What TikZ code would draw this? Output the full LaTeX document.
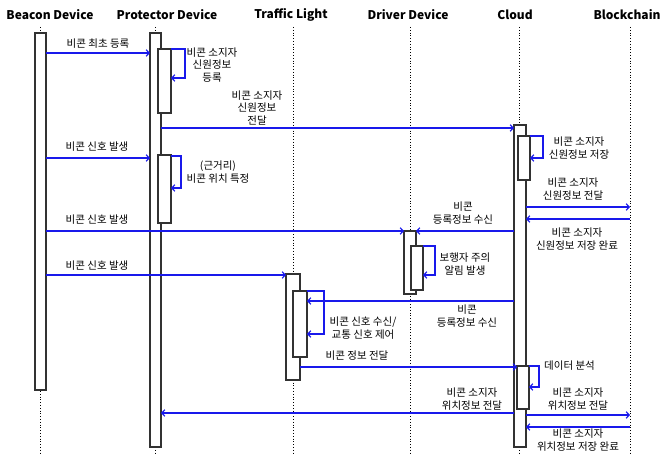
\documentclass[tikz,border=0pt]{standalone}
\usepackage{fontspec}
\setmainfont{Noto Sans CJK KR}
\usetikzlibrary{arrows.meta}
\definecolor{msgblue}{RGB}{25,25,235}
\definecolor{boxgray}{RGB}{50,50,50}
\begin{document}
\begin{tikzpicture}[x=1pt,y=-1pt,
  hdr/.style={font=\bfseries\fontsize{12}{14}\selectfont, inner sep=0},
  lbl/.style={font=\fontsize{10.5}{12.5}\selectfont, align=center, inner sep=0},
  life/.style={dotted, line width=0.8pt},
  act/.style={draw=boxgray, fill=white, line width=1.2pt, anchor=north west, inner sep=0, outer sep=0},
  msg/.style={draw=msgblue, line width=1.2pt, -{Straight Barb[length=3pt,width=6.5pt]}}]
\useasboundingbox (0,0) rectangle (662,454);
% headers
\node[hdr] (hA) at (50,15) {Beacon Device};
\node[hdr] (hP) at (167,15) {Protector Device};
\node[hdr] (hT) at (291,15) {Traffic Light};
\node[hdr] (hD) at (408,15) {Driver Device};
\node[hdr] (hC) at (515,15) {Cloud};
\node[hdr] (hB) at (627,15) {Blockchain};
% lifelines
\coordinate (lA1) at (40.5,27); \coordinate (lA2) at (40.5,454);
\coordinate (lP1) at (155.5,27); \coordinate (lP2) at (155.5,454);
\coordinate (lT1) at (293,27); \coordinate (lT2) at (293,454);
\coordinate (lD1) at (410,27); \coordinate (lD2) at (410,454);
\coordinate (lC1) at (519,27); \coordinate (lC2) at (519,454);
\coordinate (lB1) at (630,27); \coordinate (lB2) at (630,454);
\draw[life] (lA1) -- (lA2);
\draw[life] (lP1) -- (lP2);
\draw[life] (lT1) -- (lT2);
\draw[life] (lD1) -- (lD2);
\draw[life] (lC1) -- (lC2);
\draw[life] (lB1) -- (lB2);
% activation boxes
\node[act, minimum width=11pt, minimum height=357pt] (aA) at (35,33) {};
\node[act, minimum width=11pt, minimum height=414pt] (aP) at (150,33) {};
\node[act, minimum width=13pt, minimum height=64pt] (aP1) at (158,49) {};
\node[act, minimum width=13pt, minimum height=68pt] (aP2) at (158,155) {};
\node[act, minimum width=14pt, minimum height=106pt] (aT) at (286,274) {};
\node[act, minimum width=14pt, minimum height=66pt] (aT1) at (293,291) {};
\node[act, minimum width=12pt, minimum height=63pt] (aD) at (404,231) {};
\node[act, minimum width=12pt, minimum height=44pt] (aD1) at (411,246) {};
\node[act, minimum width=12pt, minimum height=322pt] (aC) at (514,125) {};
\node[act, minimum width=12pt, minimum height=44pt] (aC1) at (518,136) {};
\node[act, minimum width=12pt, minimum height=43pt] (aC2) at (517,366) {};
% message endpoints
\coordinate (m1a) at (46,53); \coordinate (m1b) at (150,53);
\coordinate (s1a) at (171,49); \coordinate (s1b) at (185,49); \coordinate (s1c) at (185,78); \coordinate (s1d) at (171,78);
\coordinate (m2a) at (161,128); \coordinate (m2b) at (514,128);
\coordinate (s2a) at (530,136); \coordinate (s2b) at (543,136); \coordinate (s2c) at (543,158); \coordinate (s2d) at (530,158);
\coordinate (m5a) at (46,158); \coordinate (m5b) at (150,158);
\coordinate (s3a) at (171,156); \coordinate (s3b) at (181,156); \coordinate (s3c) at (181,188); \coordinate (s3d) at (171,188);
\coordinate (m3a) at (526,207); \coordinate (m3b) at (630,207);
\coordinate (m4a) at (630,219); \coordinate (m4b) at (526,219);
\coordinate (m6a) at (46,231); \coordinate (m6b) at (404,231);
\coordinate (m7a) at (514,231); \coordinate (m7b) at (416,231);
\coordinate (s4a) at (423,246); \coordinate (s4b) at (435,246); \coordinate (s4c) at (435,275); \coordinate (s4d) at (423,275);
\coordinate (m8a) at (46,275); \coordinate (m8b) at (286,275);
\coordinate (m9a) at (514,301); \coordinate (m9b) at (307,301);
\coordinate (s5a) at (307,291); \coordinate (s5b) at (324,291); \coordinate (s5c) at (324,334); \coordinate (s5d) at (307,334);
\coordinate (m10a) at (300,367); \coordinate (m10b) at (517,367);
\coordinate (s6a) at (529,366); \coordinate (s6b) at (539,366); \coordinate (s6c) at (539,387); \coordinate (s6d) at (529,387);
\coordinate (m11a) at (514,413); \coordinate (m11b) at (161,413);
\coordinate (m12a) at (526,415); \coordinate (m12b) at (630,415);
\coordinate (m13a) at (630,427); \coordinate (m13b) at (526,427);
% messages
\draw[msg] (m1a) -- (m1b);
\draw[msg] (s1a) -- (s1b) -- (s1c) -- (s1d);
\draw[msg] (m2a) -- (m2b);
\draw[msg] (s2a) -- (s2b) -- (s2c) -- (s2d);
\draw[msg] (m5a) -- (m5b);
\draw[msg] (s3a) -- (s3b) -- (s3c) -- (s3d);
\draw[msg] (m3a) -- (m3b);
\draw[msg] (m4a) -- (m4b);
\draw[msg] (m6a) -- (m6b);
\draw[msg] (m7a) -- (m7b);
\draw[msg] (s4a) -- (s4b) -- (s4c) -- (s4d);
\draw[msg] (m8a) -- (m8b);
\draw[msg] (m9a) -- (m9b);
\draw[msg] (s5a) -- (s5b) -- (s5c) -- (s5d);
\draw[msg] (m10a) -- (m10b);
\draw[msg] (s6a) -- (s6b) -- (s6c) -- (s6d);
\draw[msg] (m11a) -- (m11b);
\draw[msg] (m12a) -- (m12b);
\draw[msg] (m13a) -- (m13b);
% labels
\node[lbl] (t1) at (98,44) {비콘 최초 등록};
\node[lbl] (t2) at (212,65) {비콘 소지자\\신원정보\\등록};
\node[lbl] (t3) at (257,108) {비콘 소지자\\신원정보\\전달};
\node[lbl] (t4) at (579,148) {비콘 소지자\\신원정보 저장};
\node[lbl] (t5) at (97,147) {비콘 신호 발생};
\node[lbl] (t6) at (218,172) {(근거리)\\비콘 위치 특정};
\node[lbl] (t7) at (573,189) {비콘 소지자\\신원정보 전달};
\node[lbl] (t8) at (577,239) {비콘 소지자\\신원정보 저장 완료};
\node[lbl] (t9) at (97,220) {비콘 신호 발생};
\node[lbl] (t10) at (463,213) {비콘\\등록정보 수신};
\node[lbl] (t11) at (465,264) {보행자 주의\\알림 발생};
\node[lbl] (t12) at (97,266) {비콘 신호 발생};
\node[lbl] (t13) at (467,316) {비콘\\등록정보 수신};
\node[lbl] (t14) at (363,328) {비콘 신호 수신/\\교통 신호 제어};
\node[lbl] (t15) at (357,356) {비콘 정보 전달};
\node[lbl, anchor=west] (t16) at (544,366) {데이터 분석};
\node[lbl] (t17) at (472,399) {비콘 소지자\\위치정보 전달};
\node[lbl] (t18) at (578,399) {비콘 소지자\\위치정보 전달};
\node[lbl] (t19) at (578,440) {비콘 소지자\\위치정보 저장 완료};
\end{tikzpicture}
\end{document}
